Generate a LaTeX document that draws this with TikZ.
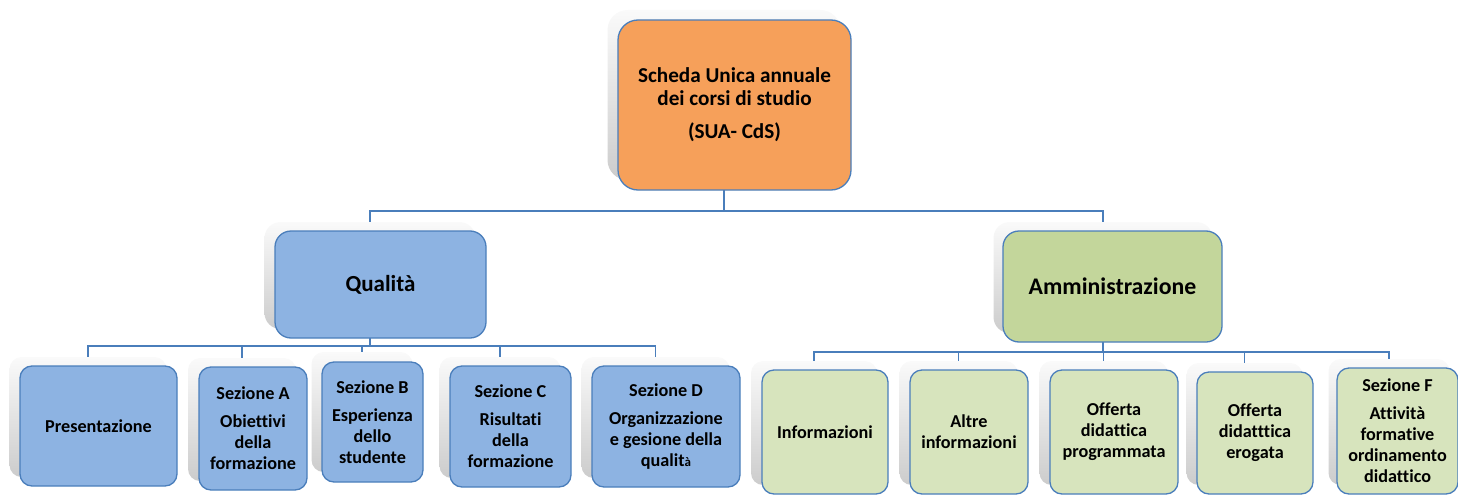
\documentclass[tikz,border=0pt]{standalone}
\usepackage{fontspec}
\setmainfont{Carlito}[Ligatures=NoCommon]
\definecolor{linec}{HTML}{4A7EBB}
\definecolor{bordc}{HTML}{4A7EBB}
\definecolor{orangef}{HTML}{F6A05A}
\definecolor{bluef}{HTML}{8DB3E2}
\definecolor{greenf}{HTML}{D7E4BD}
\definecolor{admf}{HTML}{C3D69B}
\begin{document}
\begin{tikzpicture}[x=1pt,y=-1pt,
  conn/.style={draw=linec, line width=1.3pt},
  shad/.style={rounded corners=12pt, top color=black!2, bottom color=black!20, draw=none, inner sep=0pt},
  box/.style={rounded corners=12pt, draw=bordc, line width=1.3pt, inner sep=2pt, align=center,
    font=\bfseries\fontsize{18.2}{21}\selectfont},
  bluebox/.style={box, fill=bluef},
  greenbox/.style={box, fill=greenf}
]
\useasboundingbox (0,0) rectangle (1458,495);

% shadows
\node[shad, rounded corners=20pt, minimum width=233pt, minimum height=170pt] (s-top) at (724,95) {};
\node[shad, rounded corners=16pt, minimum width=211pt, minimum height=107pt] (s-qual) at (370,275.5) {};
\node[shad, rounded corners=16pt, minimum width=219pt, minimum height=111pt] (s-adm) at (1103,277.5) {};
\node[shad, minimum width=157pt, minimum height=120pt] (s-pres) at (88,417) {};
\node[shad, minimum width=108pt, minimum height=123pt] (s-sa) at (242,419.5) {};
\node[shad, minimum width=101pt, minimum height=120pt] (s-sb) at (362,412) {};
\node[shad, minimum width=121pt, minimum height=121pt] (s-sc) at (500,417.5) {};
\node[shad, minimum width=148pt, minimum height=121pt] (s-sd) at (655.5,417.5) {};
\node[shad, minimum width=126pt, minimum height=124pt] (s-inf) at (814,423) {};
\node[shad, minimum width=118pt, minimum height=124pt] (s-alt) at (958.5,423) {};
\node[shad, minimum width=128pt, minimum height=124pt] (s-odp) at (1103.5,423) {};
\node[shad, minimum width=116pt, minimum height=122pt] (s-ode) at (1244.5,424) {};
\node[shad, minimum width=121pt, minimum height=126pt] (s-sf) at (1389,422) {};

% connectors
\coordinate (j0) at (724,211);
\coordinate (jl) at (370,346);
\coordinate (jr) at (1103,352);
\draw[conn] (s-top.south) -- (j0);
\draw[conn] (s-qual.north) |- (j0) -| (s-adm.north);
\draw[conn] (s-qual.south) -- (jl);
\draw[conn] (s-pres.north) |- (jl) -| (s-sd.north);
\draw[conn] (s-sa.north) -- (s-sa.north |- jl);
\draw[conn] (s-sb.north) -- (s-sb.north |- jl);
\draw[conn] (s-sc.north) -- (s-sc.north |- jl);
\draw[conn] (s-adm.south) -- (jr);
\draw[conn] (s-inf.north) |- (jr) -| (s-sf.north);
\draw[conn] (s-alt.north) -- (s-alt.north |- jr);
\draw[conn] (s-odp.north) -- (s-odp.north |- jr);
\draw[conn] (s-ode.north) -- (s-ode.north |- jr);

% boxes
\node[box, fill=orangef, rounded corners=20pt, minimum width=233pt, minimum height=170pt,
  font=\bfseries\fontsize{21.2}{23}\selectfont] (top) at (734.5,105)
  {Scheda Unica annuale\\dei corsi di studio\\[10pt](SUA- CdS)};
\node[bluebox, rounded corners=16pt, minimum width=211pt, minimum height=107pt,
  font=\bfseries\fontsize{23}{26}\selectfont] (qual) at (380.5,284.5) {Qualità};
\node[box, fill=admf, rounded corners=16pt, minimum width=219pt, minimum height=111pt,
  font=\bfseries\fontsize{23.8}{26}\selectfont] (adm) at (1112.5,286.5) {Amministrazione};

\node[bluebox, minimum width=157pt, minimum height=120pt] (pres) at (98.5,426) {Presentazione};
\node[bluebox, minimum width=108pt, minimum height=123pt] (sa) at (253,428.5)
  {Sezione A\\[7pt]Obiettivi\\della\\formazione};
\node[bluebox, minimum width=101pt, minimum height=120pt] (sb) at (372.5,422)
  {Sezione B\\[7pt]Esperienza\\dello\\studente};
\node[bluebox, minimum width=121pt, minimum height=121pt] (sc) at (510.5,426.5)
  {Sezione C\\[7pt]Risultati\\della\\formazione};
\node[bluebox, minimum width=148pt, minimum height=121pt] (sd) at (666,426.5)
  {Sezione D\\[7pt]Organizzazione\\e gesione della\\qualit{\fontsize{13}{13}\selectfont à}};

\node[greenbox, minimum width=126pt, minimum height=124pt] (inf) at (825,432) {Informazioni};
\node[greenbox, minimum width=118pt, minimum height=124pt] (alt) at (969,432) {Altre\\informazioni};
\node[greenbox, minimum width=128pt, minimum height=124pt] (odp) at (1114,432) {Offerta\\didattica\\programmata};
\node[greenbox, minimum width=116pt, minimum height=122pt] (ode) at (1255,433) {Offerta\\didatttica\\erogata};
\node[greenbox, minimum width=121pt, minimum height=126pt] (sf) at (1397.5,431)
  {Sezione F\\[7pt]Attività\\formative\\ordinamento\\didattico};
\end{tikzpicture}
\end{document}
